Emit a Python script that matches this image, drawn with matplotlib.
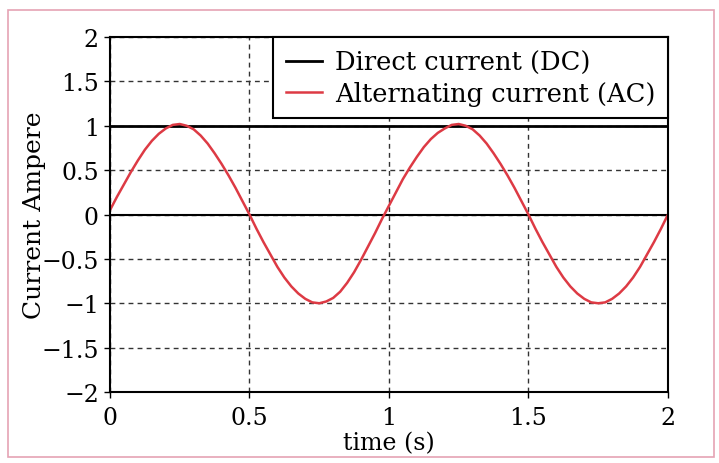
import matplotlib
matplotlib.use("Agg")
import matplotlib.pyplot as plt
import numpy as np
from matplotlib.patches import Rectangle

# AC current every 0.025 s from 0 to 2 s
time_s = np.linspace(0, 2, 81)
ac_current = [0.05, 0.20, 0.34, 0.48, 0.61, 0.73, 0.83, 0.91, 0.97, 1.01, 1.02,
              1.00, 0.96, 0.89, 0.80, 0.69, 0.57, 0.44, 0.30, 0.15, 0.00,
              -0.16, -0.31, -0.45, -0.59, -0.71, -0.81, -0.89, -0.95, -0.99, -1.00,
              -0.98, -0.94, -0.87, -0.77, -0.65, -0.51, -0.36, -0.21, -0.05, 0.10,
              0.25, 0.40, 0.53, 0.65, 0.76, 0.85, 0.92, 0.97, 1.01, 1.02,
              1.00, 0.96, 0.89, 0.80, 0.69, 0.57, 0.44, 0.30, 0.15, 0.00,
              -0.16, -0.31, -0.45, -0.59, -0.71, -0.81, -0.89, -0.95, -0.99, -1.00,
              -0.99, -0.95, -0.89, -0.81, -0.71, -0.59, -0.45, -0.31, -0.16, 0.00]
dc_time = [0.0, 2.0]
dc_current = [1.0, 1.0]

xticks = [0, 0.5, 1, 1.5, 2]
xtick_labels = ["0", "0.5", "1", "1.5", "2"]
yticks = [-2, -1.5, -1, -0.5, 0, 0.5, 1, 1.5, 2]
ytick_labels = ["\u22122", "\u22121.5", "\u22121", "\u22120.5", "0", "0.5", "1", "1.5", "2"]

plt.rcParams["font.family"] = ["DejaVu Serif"]
plt.rcParams["font.size"] = 17

fig = plt.figure(figsize=(7.19, 4.64), dpi=100)
fig.patches.append(Rectangle((0.011, 0.013), 0.982, 0.963, transform=fig.transFigure,
                             fill=False, edgecolor="#e5a3b4", linewidth=1.2))
ax = fig.add_axes([0.153, 0.153, 0.776, 0.765])

ax.grid(True, linestyle=(0, (3.5, 3)), color="#333333", linewidth=1.0)
ax.axhline(0, color="black", linewidth=1.5)
ax.plot(dc_time, dc_current, color="black", linewidth=2, label="Direct current (DC)")
ax.plot(time_s, ac_current, color="#dd3a44", linewidth=1.8, label="Alternating current (AC)")

ax.set_xlim(0, 2)
ax.set_ylim(-2, 2)
ax.set_xticks(xticks)
ax.set_xticklabels(xtick_labels)
ax.set_yticks(yticks)
ax.set_yticklabels(ytick_labels)
ax.tick_params(direction="out", length=4, width=1)
ax.tick_params(axis="x", pad=6)
ax.tick_params(axis="y", pad=4)
for s in ax.spines.values():
    s.set_linewidth(1.5)

ax.set_xlabel("time (s)", labelpad=2)
ax.set_ylabel("Current Ampere", fontsize=18, labelpad=-3)

leg = ax.legend(loc="upper right", borderaxespad=0, fancybox=False, framealpha=1,
                edgecolor="black", handlelength=1.4, handletextpad=0.5,
                borderpad=0.5, labelspacing=0.22, fontsize=18.5)
leg.get_frame().set_linewidth(1.5)

plt.savefig("out.png", dpi=100)
